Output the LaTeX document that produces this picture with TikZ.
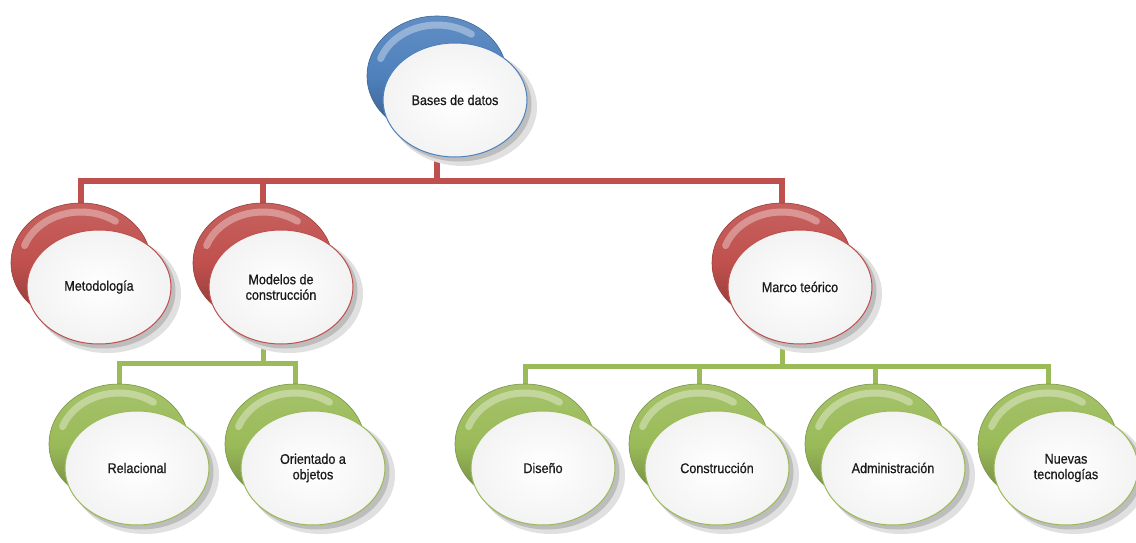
\documentclass[tikz,border=0pt]{standalone}
\usepackage{fontspec}
\setmainfont{Liberation Sans}[FakeStretch=0.9, FakeBold=0.7]
\usetikzlibrary{shapes.geometric,backgrounds}
\definecolor{cred}{HTML}{C0504D}
\definecolor{cgreen}{HTML}{9BBB59}
\definecolor{cblue}{HTML}{4F81BD}
\definecolor{txt}{HTML}{1A1A1A}
\tikzset{
  backell/.style={ellipse, minimum width=140pt, minimum height=120pt, inner sep=0pt},
  shadell/.style={ellipse, minimum width=148pt, minimum height=118pt, inner sep=0pt, fill=black!12},
  shadelltwo/.style={ellipse, minimum width=145pt, minimum height=115pt, inner sep=0pt, fill=black!26},
  frontell/.style={ellipse, minimum width=144pt, minimum height=114pt, inner sep=0pt, line width=1pt,
    align=center, text=txt, font=\fontsize{14}{15.5}\selectfont},
  hilite/.style={white, opacity=0.35, line width=7pt, line cap=round},
  redln/.style={draw=cred, line width=5.5pt},
  greenln/.style={draw=cgreen, line width=5pt},
}
\newcommand\tnode[5]{%
  \node[backell, draw=#4!80!black, line width=0.6pt, top color=#4!90!white, bottom color=#4!70!black, middle color=#4] (#1b) at (#2-18,#3-24) {};
  \draw[hilite] ([shift={(200:60 and 51)}]#1b.center) arc[start angle=200, end angle=305, x radius=60, y radius=51];
  \node[shadell] at (#2+8,#3+7) {};
  \node[shadelltwo] at (#2+4,#3+4) {};
  \node[frontell, draw=#4, inner color=white, outer color=#4!8!black!5!white] (#1) at (#2,#3) {#5};
}
\begin{document}
\begin{tikzpicture}[x=1pt, y=-1pt]
\useasboundingbox (0,0) rectangle (1136,543);
\tnode{bases}{455}{100}{cblue}{Bases de datos}
\tnode{met}{99}{287}{cred}{Metodología}
\tnode{mod}{281}{287}{cred}{Modelos de\\construcción}
\tnode{marco}{800}{287}{cred}{Marco teórico}
\tnode{rel}{137}{468}{cgreen}{Relacional}
\tnode{ori}{313}{468}{cgreen}{Orientado a\\objetos}
\tnode{dis}{543}{468}{cgreen}{Diseño}
\tnode{con}{717}{468}{cgreen}{Construcción}
\tnode{adm}{893}{468}{cgreen}{Administración}
\tnode{nue}{1066}{468}{cgreen}{Nuevas\\tecnologías}
\coordinate (rbar) at (0,181);
\coordinate (gbarl) at (0,363);
\coordinate (gbarr) at (0,366);
\begin{scope}[on background layer]
\draw[redln] (metb.center) -- (metb.center |- rbar) -- (marcob.center |- rbar) -- (marcob.center);
\draw[redln] (basesb.center) -- (basesb.center |- rbar);
\draw[redln] (modb.center) -- (modb.center |- rbar);
\draw[greenln] (relb.center) -- (relb.center |- gbarl) -- (orib.center |- gbarl) -- (orib.center);
\draw[greenln] (modb.center) -- (modb.center |- gbarl);
\draw[greenln] (disb.center) -- (disb.center |- gbarr) -- (nueb.center |- gbarr) -- (nueb.center);
\draw[greenln] (marcob.center) -- (marcob.center |- gbarr);
\draw[greenln] (conb.center) -- (conb.center |- gbarr);
\draw[greenln] (admb.center) -- (admb.center |- gbarr);
\end{scope}
\end{tikzpicture}
\end{document}
